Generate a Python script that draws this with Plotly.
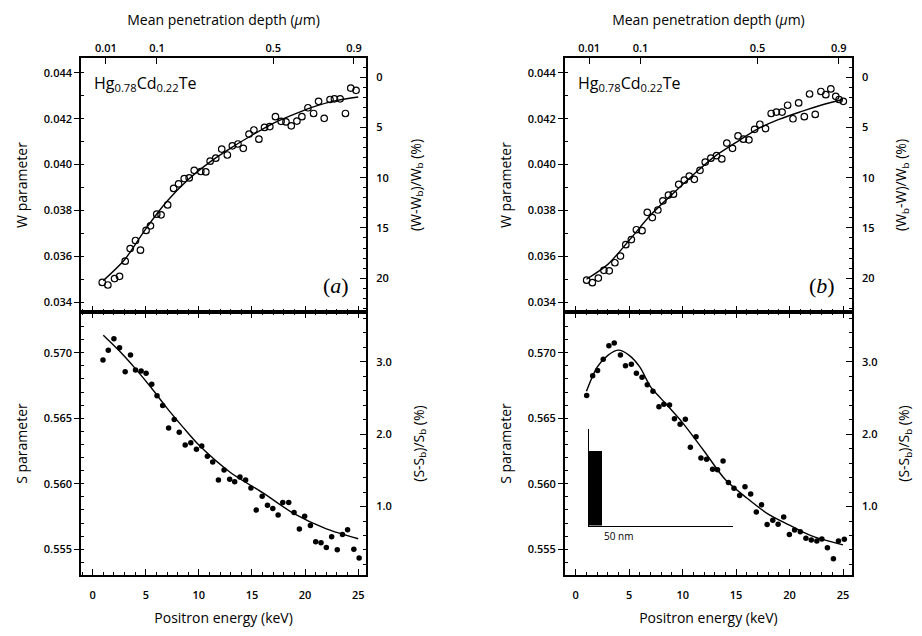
import plotly.graph_objects as go

# ---------------- data: panel (a) ----------------
E_W_a = [0.9, 1.43, 2.06, 2.53, 3.06, 3.53, 4.03, 4.5, 5.03, 5.44, 6.03, 6.44, 7.06, 7.62, 8.09,
         8.62, 9.09, 9.56, 10.18, 10.65, 11.06, 11.59, 12.15, 12.68, 13.15, 13.68, 14.18, 14.72,
         15.18, 15.65, 16.18, 16.68, 17.21, 17.74, 18.2, 18.7, 19.23, 19.7, 20.27, 20.8, 21.27,
         21.8, 22.35, 22.76, 23.3, 23.8, 24.3, 24.8]
W_a = [0.03486, 0.03475, 0.03503, 0.03513, 0.03579, 0.03634, 0.03669, 0.03627, 0.03713, 0.03733,
       0.03784, 0.03781, 0.03824, 0.03896, 0.03916, 0.03939, 0.03942, 0.03975, 0.03970, 0.03968,
       0.04015, 0.04028, 0.04068, 0.04042, 0.04082, 0.04090, 0.04071, 0.04133, 0.04151, 0.04111,
       0.04162, 0.04166, 0.04209, 0.04189, 0.04186, 0.04169, 0.04190, 0.04209, 0.04248, 0.04223,
       0.04276, 0.04202, 0.04284, 0.04287, 0.04287, 0.04223, 0.04334, 0.04324]
E_fitW_a = [1, 3, 5, 7, 9, 11, 13, 15, 17, 19, 21, 23, 25]
fitW_a = [0.03494, 0.03585, 0.0372, 0.0384, 0.03935, 0.0401, 0.04072, 0.04128, 0.0418, 0.0422,
          0.04255, 0.0428, 0.04295]

E_S_a = [0.97, 1.47, 2.0, 2.53, 3.06, 3.56, 4.03, 4.56, 5.03, 5.56, 6.06, 6.59, 7.15, 7.68, 8.15,
         8.71, 9.24, 9.77, 10.27, 10.8, 11.3, 11.84, 12.37, 12.9, 13.37, 13.87, 14.4, 14.9, 15.4,
         15.96, 16.46, 16.96, 17.46, 17.9, 18.46, 18.96, 19.46, 19.96, 20.5, 21.0, 21.5, 22.0,
         22.5, 23.03, 23.52, 24.0, 24.59, 25.09]
S_a = [0.56945, 0.5702, 0.57108, 0.57038, 0.56856, 0.56983, 0.56869, 0.56861, 0.56843, 0.5676,
       0.56672, 0.56598, 0.56426, 0.5649, 0.56394, 0.56295, 0.56313, 0.56263, 0.56288, 0.56209,
       0.56166, 0.56028, 0.56104, 0.56035, 0.56015, 0.56052, 0.56028, 0.55968, 0.55799, 0.55905,
       0.55836, 0.55811, 0.55761, 0.55856, 0.55856, 0.55781, 0.55654, 0.55751, 0.55681, 0.55557,
       0.5555, 0.55513, 0.55595, 0.55495, 0.55612, 0.55649, 0.555, 0.55433]
E_fitS_a = [1, 2.5, 4, 5.5, 7, 8.5, 10, 13, 16, 19, 22, 25]
fitS_a = [0.57134, 0.57015, 0.56881, 0.56735, 0.56577, 0.56432, 0.56295, 0.56084, 0.55932, 0.55769,
          0.55655, 0.5558]

# ---------------- data: panel (b) ----------------
E_W_b = [1.02, 1.55, 2.11, 2.63, 3.13, 3.66, 4.18, 4.68, 5.2, 5.67, 6.2, 6.69, 7.16, 7.68, 8.15,
         8.67, 9.14, 9.63, 10.16, 10.62, 11.09, 11.62, 12.11, 12.64, 13.17, 13.66, 14.13, 14.66,
         15.18, 15.68, 16.2, 16.73, 17.22, 17.75, 18.28, 18.77, 19.3, 19.82, 20.32, 20.85, 21.38,
         21.87, 22.4, 22.93, 23.39, 23.86, 24.32, 24.63, 25.03]
W_b = [0.03496, 0.03485, 0.03505, 0.03539, 0.03537, 0.03572, 0.03601, 0.03651, 0.03673, 0.03716,
       0.03712, 0.03792, 0.03769, 0.03802, 0.03842, 0.03867, 0.03871, 0.03914, 0.03932, 0.0395,
       0.03936, 0.03975, 0.04011, 0.04028, 0.04039, 0.04025, 0.04094, 0.04071, 0.04125, 0.04111,
       0.04108, 0.04154, 0.04176, 0.04157, 0.04223, 0.04229, 0.04229, 0.04259, 0.042, 0.04269,
       0.04209, 0.04308, 0.04219, 0.04319, 0.04305, 0.0433, 0.04298, 0.04284, 0.04276]
E_fitW_b = [1, 3, 5, 7, 9, 11, 13, 15, 17, 19, 21, 23, 25]
fitW_b = [0.0350, 0.03565, 0.0367, 0.0378, 0.0387, 0.03956, 0.04036, 0.04097, 0.04155, 0.04197,
          0.0423, 0.0426, 0.04284]

E_S_b = [1.02, 1.58, 2.04, 2.57, 3.1, 3.6, 4.18, 4.65, 5.2, 5.67, 6.2, 6.69, 7.22, 7.78, 8.24,
         8.77, 9.23, 9.76, 10.25, 10.72, 11.25, 11.71, 12.24, 12.8, 13.26, 13.78, 14.28, 14.8,
         15.33, 15.83, 16.36, 16.89, 17.38, 17.9, 18.43, 18.93, 19.45, 19.98, 20.47, 21.0, 21.53,
         22.03, 22.55, 23.02, 23.54, 24.1, 24.57, 25.12]
S_b = [0.56673, 0.56824, 0.56864, 0.5695, 0.57053, 0.57075, 0.56983, 0.569, 0.56912, 0.56844,
       0.56814, 0.56756, 0.56706, 0.56588, 0.56606, 0.56601, 0.56497, 0.56455, 0.56493, 0.56278,
       0.56359, 0.56196, 0.56186, 0.56111, 0.56106, 0.56173, 0.5601, 0.55965, 0.5591, 0.55977,
       0.55922, 0.55784, 0.5584, 0.55689, 0.55721, 0.55691, 0.55746, 0.55613, 0.55646, 0.55633,
       0.55583, 0.5557, 0.55563, 0.55578, 0.55512, 0.55427, 0.55563, 0.55576]
E_fitS_b = [1, 2, 3, 4, 5, 6, 7, 8, 10, 12, 14, 16, 18, 20, 22, 25]
fitS_b = [0.56706, 0.5689, 0.5698, 0.5702, 0.5698, 0.5689, 0.5674, 0.56648, 0.56465, 0.5625,
          0.5603, 0.55891, 0.55768, 0.55683, 0.55603, 0.55533]

# bulk reference values used for the right-hand percentage axes
W_bulk = 0.04381
S_bulk = 0.55273

# top axis: mean penetration depth tick labels and their positron energies (keV)
depth_labels = ["0.01", "0.1", "0.5", "0.9"]
depth_keV = [1.25, 6.05, 17.0, 24.6]

# inset (depth profile) in panel (b)
inset_layer_nm = [50]
inset_height = [0.77]

# ---------------- layout geometry ----------------
FW, FH = 922, 636
ML, MR, MT, MB = 81, 65, 58, 55
PW = FW - ML - MR
PH = FH - MT - MB


def xd(a, b):
    return [(a - ML) / PW, (b - ML) / PW]


def yd(top, bot):
    return [(FH - MB - bot) / PH, (FH - MB - top) / PH]


XD_L = xd(81, 368)
XD_R = xd(568, 857)
YD_T = yd(58, 315)
YD_B = yd(315, 581)

W_RANGE = [0.03357, 0.04465]
S_RANGE = [0.55303, 0.57311]
XR_L = [-1.1, 25.75]
XR_R = [-1.02, 25.84]
PCT_W = [(1 - W_RANGE[0] / W_bulk) * 100, (1 - W_RANGE[1] / W_bulk) * 100]
PCT_S = [(S_RANGE[0] / S_bulk - 1) * 100, (S_RANGE[1] / S_bulk - 1) * 100]

FONT = "Open Sans"
TICKF = dict(family=FONT, size=11, color="black", weight=600)
TITLEF = dict(family=FONT, size=14, color="black")
LW = 1.6

fig = go.Figure()

open_marker = dict(symbol="circle-open", size=6.5, color="black", line=dict(width=1.2, color="black"))
fill_marker = dict(symbol="circle", size=5.5, color="black")
fit_line = dict(color="black", width=1.4, shape="spline", smoothing=0.8)


def add_pts(x, y, xa, ya, marker):
    fig.add_trace(go.Scatter(x=x, y=y, mode="markers", marker=marker, xaxis=xa, yaxis=ya,
                             showlegend=False, hoverinfo="skip"))


def add_fit(x, y, xa, ya):
    fig.add_trace(go.Scatter(x=x, y=y, mode="lines", line=fit_line, xaxis=xa, yaxis=ya,
                             showlegend=False, hoverinfo="skip"))


def add_dummy(xa, ya):
    fig.add_trace(go.Scatter(x=[None], y=[None], mode="markers", xaxis=xa, yaxis=ya,
                             showlegend=False, hoverinfo="skip"))


# inset bar (drawn first so the data sit on top)
fig.add_trace(go.Bar(x=[0], y=inset_height, width=inset_layer_nm, offset=0,
                     marker=dict(color="black", line=dict(width=0)),
                     xaxis="x7", yaxis="y9", showlegend=False, hoverinfo="skip"))
# panel (a)
add_pts(E_W_a, W_a, "x", "y", open_marker)
add_fit(E_fitW_a, fitW_a, "x", "y")
add_pts(E_S_a, S_a, "x3", "y3", fill_marker)
add_fit(E_fitS_a, fitS_a, "x3", "y3")
# panel (b)
add_pts(E_W_b, W_b, "x4", "y5", open_marker)
add_fit(E_fitW_b, fitW_b, "x4", "y5")
add_pts(E_S_b, S_b, "x6", "y7", fill_marker)
add_fit(E_fitS_b, fitS_b, "x6", "y7")
# secondary axes
add_dummy("x2", "y")
add_dummy("x", "y2")
add_dummy("x3", "y4")
add_dummy("x5", "y5")
add_dummy("x4", "y6")
add_dummy("x6", "y8")


def energy_axis(domain, rng, anchor, labels, title=None, mirror=False):
    d = dict(domain=domain, range=rng, anchor=anchor, showline=True, linecolor="black", linewidth=LW,
             ticks="inside", ticklen=6, tickwidth=1.2, tickcolor="black", tick0=0, dtick=5,
             minor=dict(ticks="inside", ticklen=3, dtick=1, tick0=0, tickcolor="black", tickwidth=1),
             showticklabels=labels, tickfont=TICKF, ticklabelstandoff=9,
             showgrid=False, zeroline=False, mirror=mirror)
    if title:
        d["title"] = dict(text=title, font=TITLEF, standoff=12)
    return d


def depth_axis(over, rng, anchor):
    return dict(overlaying=over, side="top", range=rng, anchor=anchor, showline=True, linecolor="black",
                linewidth=LW, ticks="inside", ticklen=6, tickwidth=1.2, tickcolor="black",
                tickmode="array", tickvals=depth_keV, ticktext=depth_labels, tickfont=TICKF,
                showgrid=False, zeroline=False,
                title=dict(text="Mean penetration depth (<i>μ</i>m)", font=TITLEF, standoff=11))


def left_axis(domain, rng, anchor, dt, mdt, title):
    return dict(domain=domain, range=rng, anchor=anchor, showline=True, linecolor="black", linewidth=LW,
                ticks="outside", ticklen=5, tickwidth=1.2, tickcolor="black", dtick=dt, tick0=0,
                tickformat=".3f", minor=dict(ticks="inside", ticklen=3, dtick=mdt, tick0=0, tickcolor="black"),
                tickfont=TICKF, showgrid=False, zeroline=False,
                title=dict(text=title, font=TITLEF, standoff=13))


def right_axis(over, rng, anchor, dt, mdt, fmt, title):
    return dict(overlaying=over, side="right", range=rng, anchor=anchor, showline=True, linecolor="black",
                linewidth=LW, ticks="inside", ticklen=6, tickwidth=1.2, tickcolor="black", dtick=dt, tick0=0,
                tickformat=fmt, minor=dict(ticks="inside", ticklen=3, dtick=mdt, tick0=0, tickcolor="black"),
                tickfont=TICKF, ticklabelstandoff=6, showgrid=False, zeroline=False,
                title=dict(text=title, font=TITLEF, standoff=23))


W_title_a = "(W-W<sub>b</sub>)/W<sub>b</sub> (%)"
W_title_b = "(W<sub>b</sub>-W)/W<sub>b</sub> (%)"
S_title = "(S-S<sub>b</sub>)/S<sub>b</sub> (%)"

fig.update_layout(
    width=FW, height=FH, margin=dict(l=ML, r=MR, t=MT, b=MB),
    paper_bgcolor="white", plot_bgcolor="rgba(0,0,0,0)", showlegend=False, bargap=0,
    # (a) top
    xaxis=energy_axis(XD_L, XR_L, "y", False),
    xaxis2=depth_axis("x", XR_L, "y"),
    yaxis=left_axis(YD_T, W_RANGE, "x", 0.002, 0.001, "W parameter"),
    yaxis2=right_axis("y", PCT_W, "x", 5, 1, "d", W_title_a),
    # (a) bottom
    xaxis3=energy_axis(XD_L, XR_L, "y3", True, "Positron energy (keV)", mirror="ticks"),
    yaxis3=left_axis(YD_B, S_RANGE, "x3", 0.005, 0.001, "S parameter"),
    yaxis4=right_axis("y3", PCT_S, "x3", 1, 0.2, ".1f", S_title),
    # (b) top
    xaxis4=energy_axis(XD_R, XR_R, "y5", False),
    xaxis5=depth_axis("x4", XR_R, "y5"),
    yaxis5=left_axis(YD_T, W_RANGE, "x4", 0.002, 0.001, "W parameter"),
    yaxis6=right_axis("y5", PCT_W, "x4", 5, 1, "d", W_title_b),
    # (b) bottom
    xaxis6=energy_axis(XD_R, XR_R, "y7", True, "Positron energy (keV)", mirror="ticks"),
    yaxis7=left_axis(YD_B, S_RANGE, "x6", 0.005, 0.001, "S parameter"),
    yaxis8=right_axis("y7", PCT_S, "x6", 1, 0.2, ".1f", S_title),
    # inset
    xaxis7=dict(domain=xd(592, 737), range=[0, 560], anchor="y9", showline=True, linecolor="black",
                linewidth=1, ticks="", showticklabels=False, showgrid=False, zeroline=False),
    yaxis9=dict(domain=yd(433, 531), range=[0, 1], anchor="x7", showline=True, linecolor="black",
                linewidth=1, ticks="", showticklabels=False, showgrid=False, zeroline=False),
)

fig.layout.yaxis2.autorange = False
fig.layout.yaxis6.autorange = False

ann = []
for xr, yr, txt in [("x domain", "y domain", "Hg<sub>0.78</sub>Cd<sub>0.22</sub>Te"),
                    ("x4 domain", "y5 domain", "Hg<sub>0.78</sub>Cd<sub>0.22</sub>Te")]:
    ann.append(dict(xref=xr, yref=yr, x=0.04, y=0.9, xanchor="left", yanchor="middle", text=txt,
                    showarrow=False, font=dict(family=FONT, size=16, color="black")))
for xr, yr, txt in [("x domain", "y domain", "(<i>a</i>)"), ("x4 domain", "y5 domain", "(<i>b</i>)")]:
    ann.append(dict(xref=xr, yref=yr, x=0.895, y=0.105, xanchor="center", yanchor="middle", text=txt,
                    showarrow=False, font=dict(family="Liberation Serif", size=22, color="black")))
ann.append(dict(xref="x7", yref="y9", x=inset_layer_nm[0], y=0, xanchor="left", yanchor="top", yshift=-1,
                text="50 nm", showarrow=False, font=dict(family=FONT, size=10, color="black")))
fig.update_layout(annotations=ann)

fig.write_html("out.html", config={"displayModeBar": False},
               post_script="document.body.style.margin='0';")
